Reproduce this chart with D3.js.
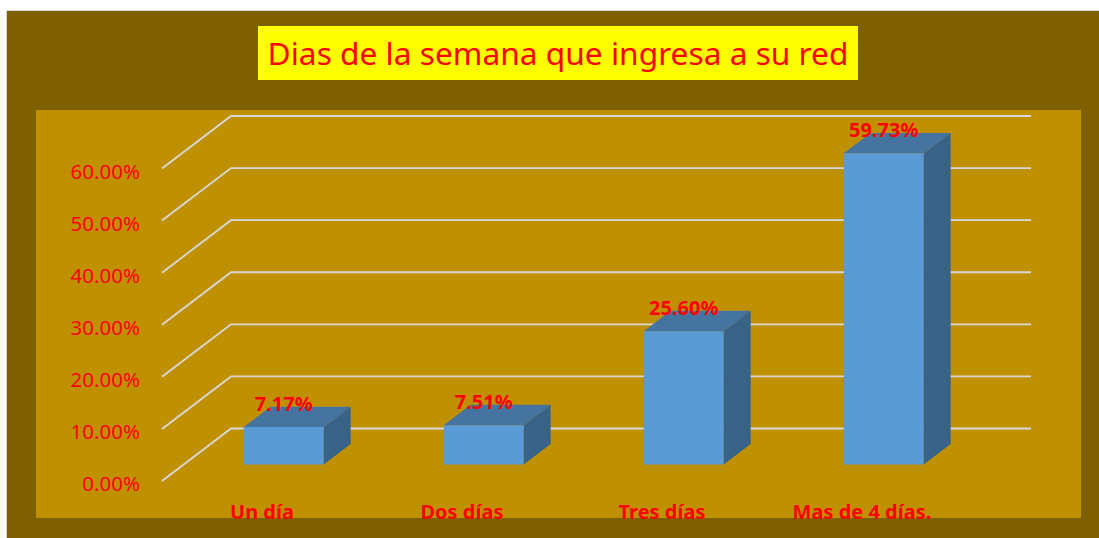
<!DOCTYPE html>
<html>
<head>
<meta charset="utf-8">
<script src="https://cdn.jsdelivr.net/npm/d3@7"></script>
<style>
  body { margin: 0; background: #ffffff; }
  text { font-family: "Noto Sans", "DejaVu Sans", sans-serif; }
</style>
</head>
<body>
<div id="chart"></div>
<script>
// data
var categories = ["Un día", "Dos días", "Tres días", "Mas de 4 días."];
var values = [0.0717, 0.0751, 0.2560, 0.5973];
var valueLabels = ["7.17%", "7.51%", "25.60%", "59.73%"];
var tickValues = [0, 0.1, 0.2, 0.3, 0.4, 0.5, 0.6];
var titleText = "Dias de la semana que ingresa a su red";

var width = 1099, height = 538;
var depthX = 69, depthY = -52.5;      // full depth of the floor
var barZ0 = 0.315, barZ1 = 0.705;     // bar depth as fraction of floor depth

var svg = d3.select("#chart").append("svg")
    .attr("width", width)
    .attr("height", height);

// backgrounds
svg.append("rect")
    .attr("x", 6.5).attr("y", 10.5)
    .attr("width", width).attr("height", height)
    .style("fill", "#7f6000")
    .style("stroke", "#d9d9d9")
    .style("stroke-width", 1);
svg.append("rect")
    .attr("x", 36).attr("y", 110)
    .attr("width", 1045).attr("height", 408)
    .style("fill", "#bf9000");

// title
svg.append("rect")
    .attr("x", 258).attr("y", 26)
    .attr("width", 600).attr("height", 54)
    .style("fill", "#ffff00");
var title = svg.append("text")
    .text(titleText)
    .attr("x", 558)
    .attr("y", 65)
    .attr("text-anchor", "middle")
    .style("fill", "#ff0000")
    .style("font-size", "28px");
var tw = title.node().getComputedTextLength();
title.style("font-size", (28 * 581 / tw) + "px");

// scales
var x = d3.scaleBand()
    .domain(categories)
    .range([162, 962])
    .paddingInner(0.6)
    .paddingOuter(0.3);
var y = d3.scaleLinear()
    .domain([0, 0.6])
    .range([481, 168.5]);

// gridlines: diagonal on side wall + horizontal on back wall
var grid = svg.append("g");
grid.selectAll("polyline")
    .data(tickValues).enter()
    .append("polyline")
    .attr("points", (d) => {
        var x0 = x.range()[0], x1 = x.range()[1];
        return x0 + "," + y(d) + " " +
            (x0 + depthX) + "," + (y(d) + depthY) + " " +
            (x1 + depthX) + "," + (y(d) + depthY);
    })
    .style("fill", "none")
    .style("stroke", "#d9d9d9")
    .style("stroke-width", 1.8);

// tick labels
svg.append("g").selectAll("text")
    .data(tickValues).enter()
    .append("text")
    .text((d) => d3.format(".2%")(d))
    .attr("x", 140)
    .attr("y", (d) => y(d) + 10)
    .attr("text-anchor", "end")
    .style("fill", "#ff0000")
    .style("font-size", "20.5px");

// bars
var bars = svg.append("g").selectAll("g")
    .data(values).enter()
    .append("g");
function pt(px, py) { return px + "," + py; }
bars.each(function (d, i) {
    var g = d3.select(this);
    var xl = x(categories[i]) + barZ0 * depthX;
    var xr = xl + x.bandwidth();
    var yb = y(0) + barZ0 * depthY;
    var yt = y(d) + barZ0 * depthY;
    var ddx = (barZ1 - barZ0) * depthX, ddy = (barZ1 - barZ0) * depthY;
    // front
    g.append("polygon")
        .attr("points", [pt(xl, yt), pt(xr, yt), pt(xr, yb), pt(xl, yb)].join(" "))
        .style("fill", "#5b9bd5");
    // top
    g.append("polygon")
        .attr("points", [pt(xl, yt), pt(xl + ddx, yt + ddy), pt(xr + ddx, yt + ddy), pt(xr, yt)].join(" "))
        .style("fill", "#44749f");
    // side
    g.append("polygon")
        .attr("points", [pt(xr, yt), pt(xr + ddx, yt + ddy), pt(xr + ddx, yb + ddy), pt(xr, yb)].join(" "))
        .style("fill", "#386286");
    // value label
    g.append("text")
        .text(valueLabels[i])
        .attr("x", (xl + xr) / 2)
        .attr("y", yt - 16.5)
        .attr("text-anchor", "middle")
        .style("fill", "#ff0000")
        .style("font-weight", "bold")
        .style("font-size", "20px");
});

// category labels
svg.append("g").selectAll("text")
    .data(categories).enter()
    .append("text")
    .text((d) => d)
    .attr("x", (d) => x(d) + x.bandwidth() / 2)
    .attr("y", 519)
    .attr("text-anchor", "middle")
    .style("fill", "#ff0000")
    .style("font-weight", "bold")
    .style("font-size", "20px");
</script>
</body>
</html>
